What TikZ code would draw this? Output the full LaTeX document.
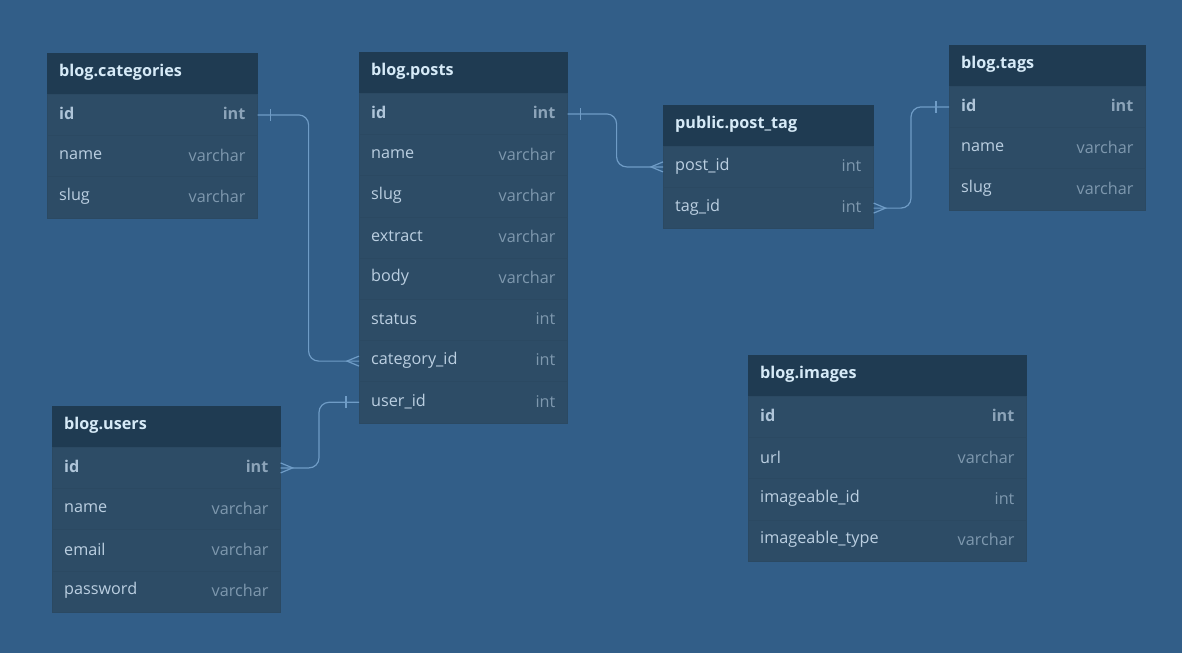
\documentclass[tikz,border=0pt]{standalone}
\usepackage{fontspec}
\setmainfont{Open Sans}
\usetikzlibrary{calc}

\definecolor{canvas}{HTML}{325E88}
\definecolor{headbg}{HTML}{1F3B52}
\definecolor{rowbg}{HTML}{2D4C66}
\definecolor{rowline}{HTML}{2B4962}
\definecolor{headtext}{HTML}{D6EAF7}
\definecolor{fieldtext}{HTML}{BBCFE1}
\definecolor{keytext}{HTML}{AFC5D9}
\definecolor{typetext}{HTML}{7E98AE}
\definecolor{keytype}{HTML}{8CA4B9}
\definecolor{linkcol}{HTML}{6F9CC6}

\newcommand{\rowfont}{\fontsize{16.2}{18}\selectfont}

\tikzset{
  tblhead/.style={rectangle, fill=headbg, draw=headbg, minimum height=41pt, inner sep=0pt, anchor=north west},
  tblrow/.style={rectangle, fill=rowbg, draw=rowline, line width=0.6pt, minimum height=41.2pt, inner sep=0pt, anchor=north west},
  title/.style={text=headtext, font=\rowfont\bfseries, inner sep=0pt, anchor=west},
  field/.style={text=fieldtext, font=\rowfont, inner sep=0pt},
  key/.style={text=keytext, font=\rowfont\bfseries, inner sep=0pt},
  field type/.style={text=typetext, font=\rowfont, inner sep=0pt},
  key type/.style={text=keytype, font=\rowfont\bfseries, inner sep=0pt},
  link/.style={draw=linkcol, line width=1.2pt, rounded corners=10pt},
  tick/.style={draw=linkcol, line width=1.2pt}
}

% #1 name, #2 x, #3 top, #4 width, #5 title, #6 rows
\newcommand{\erdtable}[6]{%
  \node[tblhead, minimum width=#4] (#1) at (#2,#3) {};
  \node[title] (#1-title) at ([xshift=12pt,yshift=1pt]#1.west) {#5};
  \foreach \f/\t/\s [count=\i] in {#6} {
    \node[tblrow, minimum width=#4] (#1-\f) at (#2, #3+41+41.2*\i-41.2) {};
    \node[\s, anchor=west] at ([xshift=12pt,yshift=1pt]#1-\f.west) {\detokenize\expandafter{\f}};
    \node[\s\space type, anchor=east] at ([xshift=-12pt,yshift=1pt]#1-\f.east) {\t};
  }
}

\begin{document}
\begin{tikzpicture}[x=1pt, y=-1pt]
\fill[canvas] (0,0) rectangle (1182,653);
\useasboundingbox (0,0) rectangle (1182,653);

% tables
\erdtable{cat}{47}{53}{210pt}{blog.categories}{id/int/key, name/varchar/field, slug/varchar/field}
\erdtable{posts}{359}{52}{208pt}{blog.posts}{id/int/key, name/varchar/field, slug/varchar/field, extract/varchar/field, body/varchar/field, status/int/field, category_id/int/field, user_id/int/field}
\erdtable{pt}{663}{105}{210pt}{public.post\_tag}{post_id/int/field, tag_id/int/field}
\erdtable{tags}{949}{45}{196pt}{blog.tags}{id/int/key, name/varchar/field, slug/varchar/field}
\erdtable{users}{52}{406}{228pt}{blog.users}{id/int/key, name/varchar/field, email/varchar/field, password/varchar/field}
\erdtable{img}{748}{355}{278pt}{blog.images}{id/int/key, url/varchar/field, imageable_id/int/field, imageable_type/varchar/field}

% relations
\draw[link] (cat-id.east) -- ++(51,0) |- (posts-category_id.west);
\draw[link] (posts-id.east) -- ++(49,0) |- (pt-post_id.west);
\draw[link] (tags-id.west) -- ++(-38,0) |- (pt-tag_id.east);
\draw[link] (posts-user_id.west) -- ++(-40,0) |- (users-id.east);

% one side
\draw[tick] ([xshift=13pt,yshift=6pt]cat-id.east) -- ++(0,12);
\draw[tick] ([xshift=13pt,yshift=6pt]posts-id.east) -- ++(0,12);
\draw[tick] ([xshift=-13pt,yshift=6pt]tags-id.west) -- ++(0,12);
\draw[tick] ([xshift=-13pt,yshift=6pt]posts-user_id.west) -- ++(0,12);

% many side
\draw[tick] ([yshift=-5pt]posts-category_id.west) -- ++(-12,-5) -- ++(12,-5);
\draw[tick] ([yshift=-5pt]pt-post_id.west) -- ++(-12,-5) -- ++(12,-5);
\draw[tick] ([yshift=-5pt]pt-tag_id.east) -- ++(12,-5) -- ++(-12,-5);
\draw[tick] ([yshift=-5pt]users-id.east) -- ++(12,-5) -- ++(-12,-5);
\end{tikzpicture}
\end{document}
